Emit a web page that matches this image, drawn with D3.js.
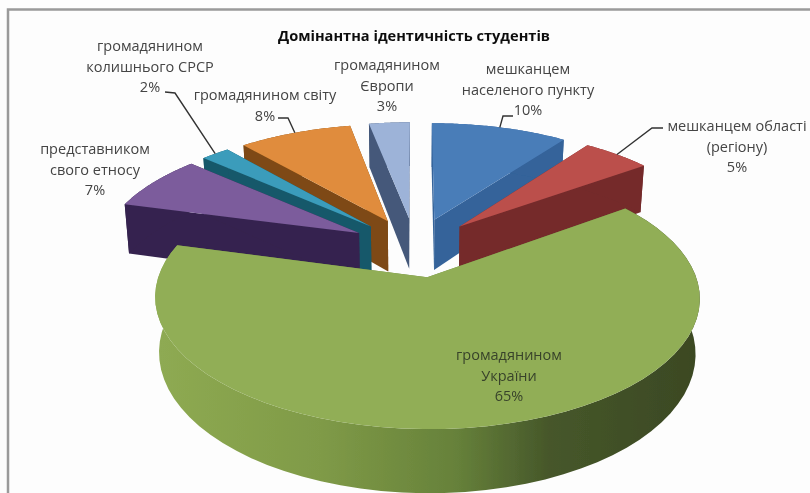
<!DOCTYPE html>
<html>
<head>
<meta charset="utf-8">
<script src="https://cdn.jsdelivr.net/npm/d3@7"></script>
<style>
  html, body { margin: 0; padding: 0; background: #fff; }
  svg { display: block; }
  text { font-family: "Open Sans", "Noto Sans", sans-serif; }
</style>
</head>
<body>
<div id="chart"></div>
<script>
const title = "Домінантна ідентичність студентів";
const categories = [
  "мешканцем населеного пункту",
  "мешканцем області (регіону)",
  "громадянином України",
  "представником свого етносу",
  "громадянином колишнього СРСР",
  "громадянином світу",
  "громадянином Європи"
];
// slice sizes as measured on the picture, the printed labels are rounded
const values = [10, 5, 64.2, 7.4, 2.1, 8.3, 3];

const topColors = ["#4a7db8", "#bb4f4b", "#91ae57", "#7c5c9c", "#3a9cbb", "#e08c3c", "#9db3d8"];
const sideColors = ["#34639a", "#742b2c", "#6f8a3f", "#35244f", "#17586a", "#7e4a14", "#44587a"];

// text lines + where each label block sits (x centre, first line y, line step)
const labelLines = [
  ["мешканцем", "населеного пункту", "10%"],
  ["мешканцем області", "(регіону)", "5%"],
  ["громадянином", "України", "65%"],
  ["представником", "свого етносу", "7%"],
  ["громадянином", "колишнього СРСР", "2%"],
  ["громадянином світу", "8%"],
  ["громадянином", "Європи", "3%"]
];
const labelPos = [[528, 74], [737, 131], [509, 360], [95, 154], [150, 51], [265, 100], [387, 70]];
const lineStep = 20.5;
// elbow of the leader lines, only some slices have one
const leaderElbow = [
  [[513, 116], [503, 116]],
  [[663, 128], [652, 128]],
  null,
  null,
  [[165, 92], [175, 93]],
  [[278, 118], [288, 118]],
  null
];

const width = 810, height = 493;
const cx = 415, cy = 247;
const R = 259, B = 118.7;   // disc radius on screen, x and y
const persp = 0.151;        // how much nearer points grow
const explode = 0.25;
const depth = 52;

const svg = d3.select("#chart").append("svg")
  .attr("width", width)
  .attr("height", height);

const defs = svg.append("defs");
defs.append("filter").attr("id", "soft")
  .append("feGaussianBlur").attr("stdDeviation", 0.6);

const rimGrad = defs.append("linearGradient")
  .attr("id", "greenRim")
  .attr("gradientUnits", "userSpaceOnUse")
  .attr("x1", 160).attr("x2", 700).attr("y1", 0).attr("y2", 0);
[["0%", "#8eaa52"], ["30%", "#7f9a47"], ["55%", "#66813a"], ["72%", "#46572a"], ["100%", "#3b4823"]]
  .forEach(s => rimGrad.append("stop").attr("offset", s[0]).attr("stop-color", s[1]));

// frame of the original picture
svg.append("rect").attr("width", width).attr("height", height).attr("fill", "#fdfdfd");
svg.append("path")
  .attr("d", `M8,${height}V9.5H${width}`)
  .attr("fill", "none")
  .attr("stroke", "#9a9a9a")
  .attr("stroke-width", 2.5)
  .attr("filter", "url(#soft)");

const pie = d3.pie().sort(null).value(d => d);
const slices = pie(values).map((s, i) => {
  s.mid = (s.startAngle + s.endAngle) / 2;
  s.index = i;
  return s;
});

// r = fraction of radius from slice apex, a = angle clockwise from the top, low = bottom plane
function project(slice, r, a, low) {
  const X = explode * Math.sin(slice.mid) + r * Math.sin(a);
  const Y = -explode * Math.cos(slice.mid) - r * Math.cos(a);
  const s = 1 / (1 - persp * Y);
  const x = R * X * s;
  const y = B * Y * s + (low ? depth * s : 0);
  return [cx + x * (low ? 0.985 : 1), cy + y];
}

function arcAngles(s) {
  return d3.range(0, 61).map(i => s.startAngle + (s.endAngle - s.startAngle) * i / 60);
}

const line = d3.line();

function topPath(s) {
  const pts = [project(s, 0, 0, false)].concat(arcAngles(s).map(a => project(s, 1, a, false)));
  return line(pts) + "Z";
}
function rimPath(s) {
  const up = arcAngles(s).map(a => project(s, 1, a, false));
  const down = arcAngles(s).reverse().map(a => project(s, 1, a, true));
  return line(up.concat(down)) + "Z";
}
function wallPath(s, a) {
  return line([
    project(s, 0, 0, false), project(s, 1, a, false),
    project(s, 1, a, true), project(s, 0, 0, true)
  ]) + "Z";
}

// painter order: back slices first, green one in front of all
const drawOrder = [0, 1, 6, 5, 4, 3, 2];

const pieG = svg.append("g").attr("filter", "url(#soft)");
const sliceG = pieG.selectAll("g.slice")
  .data(drawOrder.map(i => slices[i]))
  .enter().append("g")
  .attr("class", "slice");

sliceG.append("path")
  .attr("d", s => wallPath(s, s.startAngle))
  .attr("fill", s => sideColors[s.index]);
sliceG.append("path")
  .attr("d", s => wallPath(s, s.endAngle))
  .attr("fill", s => sideColors[s.index]);
sliceG.append("path")
  .attr("d", rimPath)
  .attr("fill", s => s.index === 2 ? "url(#greenRim)" : sideColors[s.index]);
sliceG.append("path")
  .attr("d", topPath)
  .attr("fill", s => topColors[s.index]);

// leader lines end on the outer edge at the middle of their slice
const leaderG = svg.append("g").attr("filter", "url(#soft)");
slices.forEach((s, i) => {
  if (!leaderElbow[i]) return;
  leaderG.append("path")
    .attr("d", line(leaderElbow[i].concat([project(s, 1, s.mid, false)])))
    .attr("fill", "none")
    .attr("stroke", "#333")
    .attr("stroke-width", 1.4);
});

const textG = svg.append("g").attr("filter", "url(#soft)");
textG.append("text")
  .attr("x", 414).attr("y", 41)
  .attr("text-anchor", "middle")
  .attr("font-size", 14.6)
  .attr("font-weight", "bold")
  .attr("fill", "#111")
  .text(title);

labelLines.forEach((lines, i) => {
  const t = textG.append("text")
    .attr("text-anchor", "middle")
    .attr("font-size", 14.5)
    .attr("fill", i === 2 ? "#38432a" : "#444");
  lines.forEach((l, j) => {
    t.append("tspan")
      .attr("x", labelPos[i][0])
      .attr("y", labelPos[i][1] + j * lineStep)
      .text(l);
  });
});
</script>
</body>
</html>
